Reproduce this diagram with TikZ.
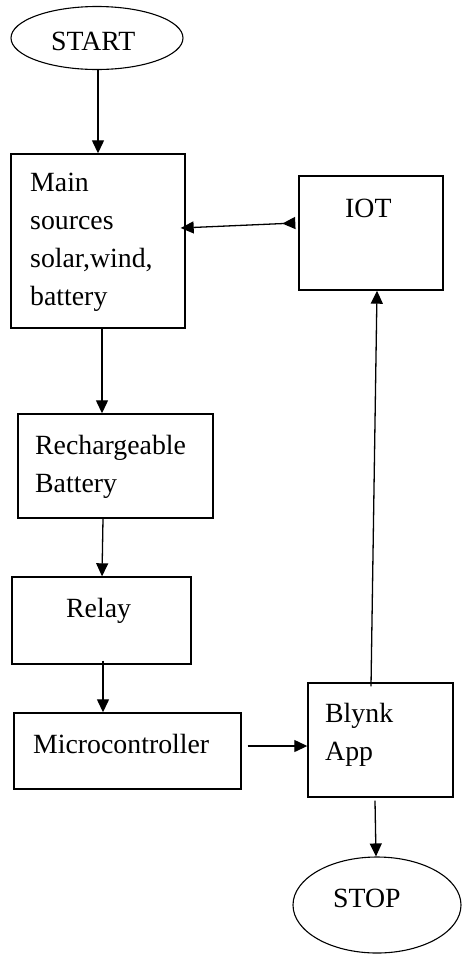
\documentclass[tikz,border=0pt]{standalone}
\usepackage{fontspec}
\setmainfont{Liberation Serif}
\usetikzlibrary{arrows.meta,shapes.geometric}
\begin{document}
\begin{tikzpicture}[x=1pt,y=-1pt,
  box/.style={draw, line width=1.4pt, inner sep=0pt},
  oval/.style={draw, ellipse, line width=1.1pt, inner sep=0pt},
  txt/.style={font=\fontsize{27.8}{38}\selectfont, inner sep=0pt, align=left},
  arr/.style={line width=1.3pt, -{Triangle[length=13pt,width=12pt]}},
  dblarr/.style={line width=1.3pt, {Triangle[reversed,length=13pt,width=12pt]}-{Triangle[length=13pt,width=12pt]}}]
\useasboundingbox (0,0) rectangle (462,954);
% shapes
\node[oval, minimum width=172pt, minimum height=63pt] (start) at (97,38) {};
\node[box, minimum width=174pt, minimum height=174pt] (main) at (98,241) {};
\node[box, minimum width=144pt, minimum height=114pt] (iot) at (371,233) {};
\node[box, minimum width=195pt, minimum height=104pt] (rech) at (115.5,466) {};
\node[box, minimum width=179pt, minimum height=87pt] (relay) at (101.5,620.5) {};
\node[box, minimum width=227pt, minimum height=76pt] (micro) at (127.5,751) {};
\node[box, minimum width=145pt, minimum height=114pt] (blynk) at (380.5,740) {};
\node[oval, minimum width=168pt, minimum height=96pt] (stop) at (377,905) {};
% texts (multi-line nodes anchored at the baseline of their last line)
\node[txt, anchor=base west] (startT) at (51,50) {START};
\node[txt, anchor=base west] (mainT) at (30,305) {Main\\sources\\solar,wind,\\battery};
\node[txt, anchor=base west] (iotT) at (345,217) {IOT};
\node[txt, anchor=base west] (rechT) at (35,492) {Rechargeable\\Battery};
\node[txt, anchor=base west] (relayT) at (66,617) {Relay};
\node[txt, anchor=base west] (microT) at (33,753) {Microcontroller};
\node[txt, anchor=base west] (blynkT) at (325,760) {Blynk\\App};
\node[txt, anchor=base west] (stopT) at (333,907) {STOP};
% connectors
\draw[arr] ([xshift=1pt]start.south) -- (main.north);
\draw[arr] ([xshift=4pt]main.south) -- ([xshift=-13.5pt]rech.north);
\draw[arr] ([xshift=-12.5pt]rech.south) -- ([xshift=0.5pt]relay.north);
\draw[arr] ([xshift=1.5pt,yshift=4pt]relay.south) -- ([xshift=-24.5pt]micro.north);
\draw[arr] ([xshift=6pt,yshift=5pt]micro.east) -- ([yshift=-6pt]blynk.west);
\draw[arr] ([xshift=-9.5pt,yshift=-4pt]blynk.north) -- ([xshift=6pt]iot.south);
\draw[arr] ([xshift=-5.5pt,yshift=-3pt]blynk.south) -- ([xshift=-1pt]stop.north);
\draw[dblarr] ([xshift=-3pt,yshift=10pt]iot.west) -- ([xshift=-5pt,yshift=13pt]main.east);
\end{tikzpicture}
\end{document}
